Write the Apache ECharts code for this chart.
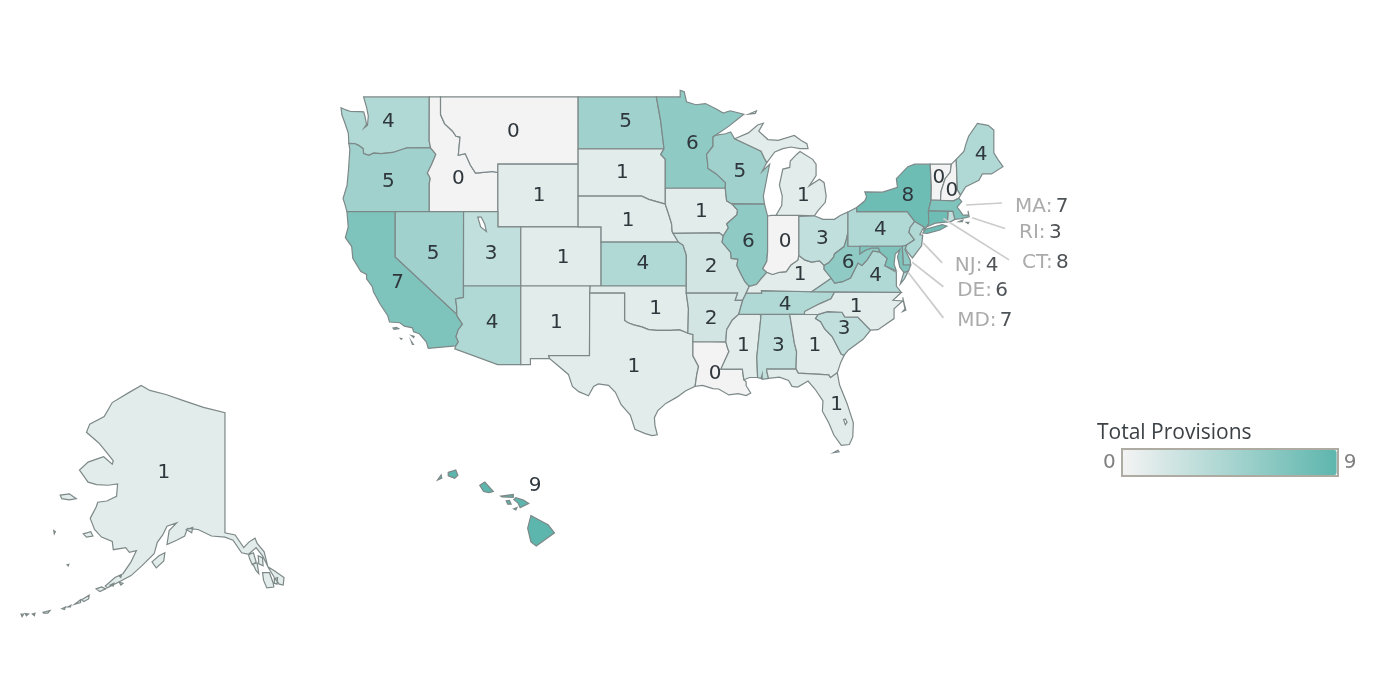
<!DOCTYPE html>
<html>
<head>
<meta charset="utf-8">
<title>Total Provisions</title>
<script src="https://cdn.jsdelivr.net/npm/echarts@6/dist/echarts.min.js"></script>
<style>
  html, body { margin: 0; background: #fff; }
  #main { width: 1400px; height: 700px; }
</style>
</head>
<body>
<div id="main"></div>
<script>
// values per state
const stateNames = ['WA','OR','CA','ID','NV','MT','WY','UT','AZ','CO','NM','ND','SD','NE','KS','OK','TX','MN','IA','MO','AR','LA','WI','IL','MS','AL','TN','KY','IN','MI','OH','GA','FL','SC','NC','VA','WV','PA','NY','VT','NH','ME','MA','RI','CT','NJ','DE','MD'];
const stateValues = [4,5,7,0,5,0,1,3,4,1,1,5,1,1,4,1,1,6,1,2,2,0,5,6,1,3,4,1,0,1,3,1,1,3,1,4,6,4,8,0,0,4,7,3,8,4,6,7];
const alaskaValue = 1;
const hawaiiValue = 9;

// states labelled outside the map, with their leader lines
const calloutStates = ['MA','RI','CT','NJ','DE','MD'];
const calloutFrom = [[-70.22,42.43],[-69.7,41.6],[-72.2,41.55],[-73.97,39.95],[-74.93,38.65],[-75.28,37.95]];
const calloutTo = [[-67.08,42.56],[-66.82,40.9],[-66.47,38.8],[-72.3,38.6],[-72.2,36.95],[-72.2,34.75]];
const calloutText = [[-65.95,42.43],[-65.6,40.75],[-65.34,38.72],[-71.2,38.5],[-71,36.8],[-71,34.65]];

// where each number sits, lon/lat
const labelPoints = {
  WA:[-120.6,47.63],OR:[-120.6,44],CA:[-119.8,37.3],ID:[-114.5,44.15],NV:[-116.7,39.3],MT:[-109.7,47],WY:[-107.45,43.1],UT:[-111.65,39.3],
  AZ:[-111.55,34.5],CO:[-105.35,39],NM:[-105.95,34.5],ND:[-99.9,47.6],SD:[-100.2,44.5],NE:[-99.7,41.5],KS:[-98.4,38.6],OK:[-97.3,35.5],
  TX:[-99.2,31.25],MN:[-94.1,46.3],IA:[-93.3,42.05],MO:[-92.45,38.4],AR:[-92.45,34.75],LA:[-92.1,30.7],WI:[-89.95,44.6],IL:[-89.2,40.1],
  MS:[-89.65,32.8],AL:[-86.6,32.8],TN:[-86,35.75],KY:[-84.7,37.85],IN:[-86,40.1],MI:[-84.4,43.1],OH:[-82.75,40.3],GA:[-83.4,32.8],
  FL:[-81.5,28.4],SC:[-80.85,34],NC:[-79.8,35.6],VA:[-78.1,37.75],WV:[-80.5,38.65],PA:[-77.7,40.85],NY:[-75.3,43.1],VT:[-72.6,44.25],
  NH:[-71.45,43.4],ME:[-68.9,45.65],MA:[-72,42.4],RI:[-71.5,41.7],CT:[-72.7,41.6],NJ:[-74.5,40.2],DE:[-75.5,39],MD:[-76.8,39.4]
};

// outlines, lon/lat. each state is a list of polygons, a polygon is a list of rings (outer, then holes)
const outlines = {
  WA: [[[[-124.73,48.38],[-124.3,48.25],[-123.9,48.16],[-123.1,48.15],[-122.75,48.14],[-122.65,47.9],[-122.5,47.4],[-122.7,47.2],[-122.42,47.35],[-122.35,47.9],[-122.5,48.4],[-122.76,49],[-117.03,49],[-117.04,46.42],[-116.92,45.995],[-118.98,46],[-119.3,45.93],[-120.2,45.72],[-121.2,45.65],[-121.9,45.68],[-122.3,45.55],[-122.76,45.65],[-122.8,45.95],[-123.2,46.15],[-123.55,46.26],[-124.05,46.27],[-124.07,46.65],[-124.1,46.9],[-124.4,47.5],[-124.65,47.95]]]],
  OR: [[[[-124.05,46.27],[-123.55,46.26],[-123.2,46.15],[-122.8,45.95],[-122.76,45.65],[-122.3,45.55],[-121.9,45.68],[-121.2,45.65],[-120.2,45.72],[-119.3,45.93],[-118.98,46],[-116.92,45.995],[-116.68,45.8],[-116.46,45.6],[-116.7,45.2],[-116.85,44.95],[-117.2,44.45],[-117.03,44.25],[-116.95,44.1],[-117.03,43.83],[-117.03,42],[-124.21,42],[-124.4,42.5],[-124.55,42.84],[-124.2,43.7],[-124.07,44.7],[-123.96,45.9]]]],
  CA: [[[[-124.21,42],[-120,42],[-120,39],[-114.63,35],[-114.6,34.87],[-114.14,34.3],[-114.5,33.9],[-114.7,33.4],[-114.5,33],[-114.72,32.72],[-117.12,32.53],[-117.28,33],[-117.9,33.6],[-118.4,33.75],[-118.5,34.03],[-119.2,34.15],[-119.6,34.4],[-120.5,34.45],[-120.65,34.9],[-121.3,35.7],[-121.9,36.6],[-122,36.95],[-122.5,37.5],[-122.5,37.8],[-123,38],[-123.7,38.9],[-123.8,39.7],[-124.35,40.3],[-124.1,41]]],
    [[[-120.2,34.02],[-119.9,34.07],[-119.7,33.97],[-120.1,33.92]]],[[[-118.6,33.48],[-118.35,33.42],[-118.4,33.33]]],[[[-118.6,33.05],[-118.42,32.82],[-118.5,32.82]]],[[[-119.55,33.28],[-119.42,33.25],[-119.48,33.2]]]],
  ID: [[[[-117.03,49],[-116.05,49],[-116.05,47.98],[-115.7,47.45],[-115,47],[-114.7,46.7],[-114.35,46.65],[-114.5,45.55],[-113.9,45.65],[-113.45,44.95],[-113,44.45],[-112.3,44.5],[-111.5,44.55],[-111.05,44.48],[-111.05,42],[-114.04,42],[-117.03,42],[-117.03,43.83],[-116.95,44.1],[-117.03,44.25],[-117.2,44.45],[-116.85,44.95],[-116.7,45.2],[-116.46,45.6],[-116.68,45.8],[-116.92,45.995],[-117.04,46.42]]]],
  NV: [[[[-120,42],[-114.04,42],[-114.05,37],[-114.05,36.2],[-114.74,36.1],[-114.65,35.6],[-114.63,35],[-120,39]]]],
  MT: [[[[-116.05,49],[-104.05,49],[-104.05,45],[-111.05,45],[-111.05,44.48],[-111.5,44.55],[-112.3,44.5],[-113,44.45],[-113.45,44.95],[-113.9,45.65],[-114.5,45.55],[-114.35,46.65],[-114.7,46.7],[-115,47],[-115.7,47.45],[-116.05,47.98]]]],
  WY: [[[[-111.05,45],[-104.05,45],[-104.05,41],[-111.05,41]]]],
  UT: [[[[-114.04,42],[-111.05,42],[-111.05,41],[-109.05,41],[-109.05,37],[-114.05,37]],[[-112.8,41.65],[-112.55,41],[-112.05,40.7],[-112.2,41.2],[-112.5,41.65]]]],
  AZ: [[[[-114.05,37],[-109.05,37],[-109.05,31.33],[-111.07,31.33],[-114.81,32.5],[-114.72,32.72],[-114.5,33],[-114.7,33.4],[-114.5,33.9],[-114.14,34.3],[-114.6,34.87],[-114.63,35],[-114.65,35.6],[-114.74,36.1],[-114.05,36.2]]]],
  CO: [[[[-109.05,41],[-102.05,41],[-102.05,37],[-109.05,37]]]],
  NM: [[[[-109.05,37],[-103,37],[-103.04,36.5],[-103.06,32],[-106.62,32],[-106.53,31.78],[-108.21,31.78],[-108.21,31.33],[-109.05,31.33]]]],
  ND: [[[[-104.05,49],[-97.23,49],[-96.85,47.6],[-96.56,45.94],[-104.05,45.94]]]],
  SD: [[[[-104.05,45.94],[-96.56,45.94],[-96.85,45.6],[-96.45,45.3],[-96.45,43.5],[-96.45,42.49],[-97.9,42.79],[-98.5,43],[-104.05,43]]]],
  NE: [[[[-104.05,43],[-98.5,43],[-97.9,42.79],[-96.45,42.49],[-96.1,41.7],[-95.9,41.2],[-95.85,40.7],[-95.31,40],[-102.05,40],[-102.05,41],[-104.05,41]]]],
  KS: [[[[-102.05,40],[-95.31,40],[-94.9,39.8],[-94.61,39.11],[-94.62,37],[-102.05,37]]]],
  OK: [[[[-103,37],[-94.62,37],[-94.62,36.5],[-94.43,35.4],[-94.48,33.64],[-95.2,33.88],[-96,33.85],[-96.6,33.85],[-97.2,33.85],[-97.9,33.9],[-98.5,34.1],[-99.2,34.25],[-99.7,34.4],[-100,34.56],[-100,36.5],[-103.04,36.5]]]],
  TX: [[[[-103.04,36.5],[-100,36.5],[-100,34.56],[-99.7,34.4],[-99.2,34.25],[-98.5,34.1],[-97.9,33.9],[-97.2,33.85],[-96.6,33.85],[-96,33.85],[-95.2,33.88],[-94.48,33.64],[-94.04,33.55],[-94.04,33.02],[-94.04,31.99],[-93.55,31.2],[-93.7,30.6],[-93.85,29.7],[-94.7,29.35],[-95.4,28.9],[-96.4,28.4],[-97.1,27.85],[-97.4,27.3],[-97.35,26.7],[-97.15,25.96],[-97.6,25.9],[-98.2,26.06],[-99.1,26.4],[-99.5,27.5],[-100.3,28.3],[-100.8,29.25],[-101.4,29.77],[-102.3,29.88],[-102.7,29.7],[-103.15,28.98],[-104,29.3],[-104.55,29.7],[-104.9,30.6],[-106,31.4],[-106.53,31.78],[-106.62,32],[-103.06,32]]]],
  MN: [[[[-97.23,49],[-95.15,49],[-95.15,49.38],[-94.8,49.3],[-94.6,48.72],[-93.8,48.55],[-92.95,48.62],[-92,48.3],[-91.4,48.07],[-90.8,48.2],[-89.6,48],[-90.9,47.3],[-92.1,46.75],[-92.29,46.66],[-92.29,46.1],[-92.85,45.6],[-92.75,45],[-92.75,44.75],[-92,44.4],[-91.2,43.85],[-91.22,43.5],[-96.45,43.5],[-96.45,45.3],[-96.85,45.6],[-96.56,45.94],[-96.85,47.6]]]],
  IA: [[[[-96.45,43.5],[-91.22,43.5],[-91.1,42.7],[-90.64,42.5],[-90.15,42.1],[-90.2,41.8],[-91.1,41.2],[-90.95,40.95],[-91.4,40.4],[-91.73,40.61],[-95.77,40.58],[-95.85,40.7],[-95.9,41.2],[-96.1,41.7],[-96.45,42.49]]]],
  MO: [[[[-95.77,40.58],[-91.73,40.61],[-91.4,40.4],[-91.5,40],[-90.75,39.3],[-90.7,38.9],[-90.12,38.85],[-90.2,38.4],[-89.9,37.9],[-89.5,37.3],[-89.13,36.98],[-89.4,36.5],[-89.7,36],[-90.37,36],[-90.15,36.5],[-94.62,36.5],[-94.62,37],[-94.61,39.11],[-94.9,39.8],[-95.31,40]]]],
  AR: [[[[-94.62,36.5],[-90.15,36.5],[-90.37,36],[-89.7,36],[-90.05,35],[-90.6,34.6],[-91.1,33.9],[-91.17,33],[-94.04,33.02],[-94.04,33.55],[-94.48,33.64],[-94.43,35.4]]]],
  LA: [[[[-94.04,33.02],[-91.17,33],[-91,32.5],[-90.9,32.3],[-91.6,31],[-89.73,31],[-89.6,30.2],[-89.4,30.05],[-89.4,29.75],[-89,29.2],[-89.4,29],[-90.1,29.15],[-90.9,29.05],[-91.8,29.5],[-92.3,29.53],[-93.2,29.77],[-93.85,29.7],[-93.7,30.6],[-93.55,31.2],[-94.04,31.99]]]],
  WI: [[[[-92.29,46.66],[-92.1,46.75],[-91.2,46.85],[-90.75,46.95],[-90.4,46.55],[-89.1,46.13],[-88.1,45.8],[-87.8,45.35],[-87.6,45.1],[-88,44.55],[-87.35,45],[-87.55,44.3],[-87.9,43],[-87.8,42.49],[-90.64,42.5],[-91.1,42.7],[-91.22,43.5],[-91.2,43.85],[-92,44.4],[-92.75,44.75],[-92.75,45],[-92.85,45.6],[-92.29,46.1]]]],
  IL: [[[[-90.64,42.5],[-87.8,42.49],[-87.53,41.72],[-87.53,39.35],[-87.6,38.7],[-87.95,38.2],[-87.6,37.95],[-88.1,37.5],[-88.5,37.1],[-89.13,36.98],[-89.5,37.3],[-89.9,37.9],[-90.2,38.4],[-90.12,38.85],[-90.7,38.9],[-90.75,39.3],[-91.5,40],[-91.4,40.4],[-90.95,40.95],[-91.1,41.2],[-90.2,41.8],[-90.15,42.1]]]],
  MS: [[[[-90.05,35],[-88.2,35],[-88.1,34.9],[-88.47,31.9],[-88.4,30.37],[-89.1,30.37],[-89.6,30.2],[-89.73,31],[-91.6,31],[-90.9,32.3],[-91,32.5],[-91.17,33],[-91.1,33.9],[-90.6,34.6]]]],
  AL: [[[[-88.2,35],[-85.6,35],[-85.18,32.86],[-85,32.3],[-85.05,31],[-87.6,31],[-87.6,30.85],[-87.45,30.3],[-88,30.23],[-88,30.6],[-88.1,30.3],[-88.4,30.37],[-88.47,31.9],[-88.1,34.9]]]],
  TN: [[[[-90.05,35],[-89.7,36],[-89.4,36.5],[-88.05,36.5],[-88.07,36.68],[-83.68,36.6],[-81.68,36.59],[-82,36.1],[-83,35.75],[-84.3,35.2],[-84.32,34.99],[-85.6,35],[-88.2,35]]]],
  KY: [[[[-89.13,36.98],[-88.5,37.1],[-88.1,37.5],[-87.6,37.95],[-87.1,37.8],[-86.5,37.95],[-85.9,38],[-85.5,38.45],[-84.9,38.78],[-84.8,39.1],[-84.3,38.8],[-83.7,38.65],[-83,38.73],[-82.6,38.42],[-82.6,38.15],[-81.97,37.54],[-83.68,36.6],[-88.07,36.68],[-88.05,36.5],[-89.4,36.5]]]],
  IN: [[[[-87.53,41.72],[-87.2,41.76],[-86.8,41.76],[-84.8,41.76],[-84.8,39.1],[-84.9,38.78],[-85.5,38.45],[-85.9,38],[-86.5,37.95],[-87.1,37.8],[-87.6,37.95],[-87.95,38.2],[-87.6,38.7],[-87.53,39.35]]]],
  MI: [[[[-86.8,41.76],[-84.8,41.76],[-83.45,41.73],[-83.15,42.05],[-82.5,42.6],[-82.42,43],[-82.6,43.85],[-83,44.07],[-83.9,43.65],[-83.3,44.3],[-83.3,45],[-83.6,45.3],[-84.7,45.78],[-85,45.6],[-85.55,45.2],[-85.6,44.8],[-86.2,44.7],[-86.5,43.7],[-86.25,43],[-86.3,42.4]]],
    [[[-90.4,46.55],[-89.2,46.9],[-88.4,47.37],[-87.9,47.47],[-88.3,47],[-87.5,46.5],[-86.6,46.45],[-85.2,46.75],[-84.6,46.45],[-84.1,46.25],[-84,45.95],[-84.7,45.95],[-85.5,46.05],[-86.2,45.95],[-86.9,45.75],[-87.6,45.1],[-87.8,45.35],[-88.1,45.8],[-89.1,46.13]]],
    [[[-89.2,48],[-88.5,48.2],[-88.6,48.05]]]],
  OH: [[[[-84.8,41.7],[-83.45,41.73],[-82.7,41.5],[-81.7,41.5],[-81.2,41.75],[-80.52,41.98],[-80.52,40.64],[-80.65,40.2],[-80.85,39.7],[-81.7,39.2],[-81.75,39],[-82.2,38.6],[-82.6,38.42],[-83,38.73],[-83.7,38.65],[-84.3,38.8],[-84.8,39.1]]]],
  GA: [[[[-85.6,35],[-83.11,35],[-83.35,34.7],[-82.9,34.48],[-82.55,33.95],[-81.9,33.4],[-81.4,32.6],[-81.1,32.1],[-80.85,32.03],[-81.15,31.5],[-81.45,30.72],[-82.05,30.36],[-82.2,30.57],[-84.86,30.7],[-85.05,31],[-85,32.3],[-85.18,32.86]]]],
  FL: [[[[-87.6,31],[-85.05,31],[-84.86,30.7],[-82.2,30.57],[-82.05,30.36],[-81.45,30.72],[-81.25,29.8],[-80.6,28.4],[-80.05,26.9],[-80.1,25.8],[-80.4,25.2],[-81.1,25.13],[-81.75,25.95],[-82.2,26.9],[-82.75,27.8],[-82.7,28.6],[-83.4,29.5],[-84,30.1],[-84.9,29.65],[-85.4,29.7],[-85.7,30.15],[-86.5,30.4],[-87.45,30.3],[-87.6,30.85]],[[-80.9,27.15],[-80.75,26.75],[-80.6,26.95],[-80.75,27.2]]],
    [[[-81.8,24.55],[-81.4,24.75],[-81.3,24.62]]]],
  SC: [[[[-83.11,35],[-82.3,35.2],[-81.04,35.15],[-80.8,34.82],[-79.67,34.8],[-78.55,33.86],[-79.2,33.2],[-80.5,32.4],[-80.85,32.03],[-81.1,32.1],[-81.4,32.6],[-81.9,33.4],[-82.55,33.95],[-82.9,34.48],[-83.35,34.7]]]],
  NC: [[[[-84.32,34.99],[-84.3,35.2],[-83,35.75],[-82,36.1],[-81.68,36.59],[-75.87,36.55],[-76.6,36],[-75.75,35.95],[-76.5,35.4],[-76.5,34.7],[-77.9,33.9],[-78.55,33.86],[-79.67,34.8],[-80.8,34.82],[-81.04,35.15],[-82.3,35.2],[-83.11,35]]],
    [[[-75.75,36.2],[-75.47,35.3],[-75.75,35.2],[-75.55,35.4]]]],
  VA: [[[[-83.68,36.6],[-81.97,37.54],[-81.68,37.2],[-81,37.3],[-80.3,37.55],[-79.65,38.58],[-79.3,38.42],[-78.85,38.8],[-78.35,39.4],[-77.72,39.32],[-77.1,38.9],[-77.3,38.4],[-76.3,37.95],[-76.3,37],[-75.87,36.55],[-81.68,36.59]]],
    [[[-75.95,37.15],[-75.65,37.95],[-75.25,38.03],[-75.6,37.5]]]],
  WV: [[[[-80.52,40.64],[-80.52,39.72],[-79.48,39.72],[-79.48,39.2],[-79,39.45],[-78.45,39.6],[-77.85,39.6],[-77.72,39.32],[-78.35,39.4],[-78.85,38.8],[-79.3,38.42],[-79.65,38.58],[-80.3,37.55],[-81,37.3],[-81.68,37.2],[-81.97,37.54],[-82.6,38.15],[-82.6,38.42],[-82.2,38.6],[-81.75,39],[-81.7,39.2],[-80.85,39.7],[-80.65,40.2]]]],
  PA: [[[[-80.52,41.98],[-79.76,42.27],[-79.76,42],[-75.35,42],[-74.7,41.36],[-75.1,40.97],[-75.2,40.65],[-74.72,40.15],[-75.41,39.8],[-75.79,39.72],[-80.52,39.72]]]],
  NY: [[[[-79.76,42.27],[-79.05,42.7],[-78.9,42.95],[-79.05,43.27],[-77.5,43.25],[-76.2,43.55],[-76.3,44.1],[-75.3,44.85],[-74.7,45],[-73.35,45],[-73.25,43.6],[-73.27,42.75],[-73.5,42.05],[-73.48,41.2],[-73.66,41],[-73.9,40.8],[-73.9,41],[-74.7,41.36],[-75.35,42],[-79.76,42]]],
    [[[-74,40.6],[-73.75,40.85],[-72.3,41.15],[-71.9,41.05],[-72.5,40.8],[-73.6,40.58]]]],
  VT: [[[[-73.35,45],[-71.5,45.01],[-71.6,44.5],[-72.05,44.1],[-72.4,43.3],[-72.45,42.73],[-73.27,42.75],[-73.25,43.6]]]],
  NH: [[[[-71.5,45.01],[-71.08,45.3],[-70.98,43.4],[-70.7,43.07],[-70.85,42.87],[-71.3,42.7],[-72.45,42.73],[-72.4,43.3],[-72.05,44.1],[-71.6,44.5]]]],
  ME: [[[[-71.08,45.3],[-70.4,45.8],[-70.25,46.2],[-70,46.7],[-69.23,47.46],[-69,47.43],[-68.3,47.35],[-67.8,47.07],[-67.8,45.7],[-67.45,45.3],[-67,44.85],[-68,44.4],[-68.8,44.4],[-69.1,44],[-69.8,43.75],[-70.25,43.6],[-70.7,43.07],[-70.98,43.4]]]],
  MA: [[[[-73.27,42.75],[-71.3,42.7],[-70.85,42.87],[-70.6,42.65],[-71,42.3],[-70.65,41.95],[-70.5,41.78],[-70,41.78],[-70.05,42.05],[-69.95,41.67],[-70.65,41.55],[-71.2,41.5],[-71.38,42.02],[-71.8,42.02],[-73.5,42.05]]],
    [[[-70.82,41.35],[-70.5,41.45],[-70.55,41.35]]],[[[-70.2,41.3],[-69.98,41.3],[-70.05,41.22]]]],
  RI: [[[[-71.8,42.02],[-71.38,42.02],[-71.2,41.5],[-71.5,41.37],[-71.85,41.33]]]],
  CT: [[[[-73.5,42.05],[-71.8,42.02],[-71.85,41.33],[-72.9,41.25],[-73.66,41],[-73.48,41.2]]]],
  NJ: [[[[-74.7,41.36],[-73.9,41],[-74.25,40.5],[-74,40.45],[-74.1,39.75],[-74.9,38.93],[-75.3,39.3],[-75.55,39.6],[-75.41,39.8],[-74.72,40.15],[-75.2,40.65],[-75.1,40.97]]]],
  DE: [[[[-75.79,39.72],[-75.41,39.8],[-75.55,39.5],[-75.1,38.8],[-75.05,38.45],[-75.7,38.46]]]],
  MD: [[[[-79.48,39.72],[-75.79,39.72],[-75.7,38.46],[-75.05,38.45],[-75.25,38.03],[-75.65,37.95],[-76,38.3],[-76.2,39],[-76,39.5],[-76.4,39.2],[-76.5,38.5],[-76.3,38.05],[-77.3,38.4],[-77.1,38.9],[-77.72,39.32],[-77.85,39.6],[-78.45,39.6],[-79,39.45],[-79.48,39.2]]]]
};

const alaskaOutline = [
  [[[-141,69.65],[-141,60.3],[-139.1,60.1],[-137.5,58.9],[-136.5,59.45],[-135.4,59.8],[-135,59.3],[-133.7,58.5],[-133,57],[-131.8,56.6],[-130,55.9],[-130.15,55.1],[-130.9,55.2],[-131.8,55.9],[-132.9,56.9],[-134,58.1],[-135.2,58.9],[-136.6,58.25],[-137.9,58.4],[-139.5,59.6],[-141,59.9],[-143.5,60],[-146,60.6],[-148,60.7],[-148.5,60],[-150,59.6],[-151.8,59.2],[-151.4,60.5],[-150,61.2],[-151.8,60.9],[-152.6,60.1],[-153.6,59.4],[-154.2,58.3],[-156.5,57.1],[-158.5,56.1],[-160.5,55.5],[-162.9,54.8],[-163.3,55],[-161.5,55.9],[-160,56.3],[-158.5,57.5],[-157.5,58.6],[-158.8,58.45],[-159.5,58.9],[-161.8,58.7],[-162,59.5],[-164,59.9],[-165.3,60.6],[-166.1,61.6],[-165,62.6],[-164.7,63],[-163,63.1],[-161.2,63.5],[-161,64.5],[-162.8,64.4],[-164.9,64.45],[-166.5,64.65],[-168.1,65.6],[-166.5,66.2],[-164.4,66.5],[-163.6,66.6],[-162,66.05],[-161.8,66.3],[-163.2,67],[-164.5,67.6],[-166.8,68.35],[-166.2,68.9],[-163.5,69.4],[-162,70.3],[-159,70.9],[-156.6,71.35],[-155,71.05],[-152,70.8],[-149,70.45],[-145,70]]],
  [[[-154.6,57.5],[-153.3,58.1],[-152.2,58.4],[-152.4,57.6],[-153.8,56.9]]],
  [[[-171.7,63.6],[-170,63.7],[-168.7,63.3],[-170,63.2],[-171.4,63.3]]],
  [[[-167.4,60.2],[-166,60.4],[-165.6,60],[-166.8,59.9]]],
  [[[-172.9,60.5],[-172.6,60.4],[-172.8,60.2]]],
  [[[-136.6,58.2],[-135.7,58.4],[-135.2,57.5],[-135.9,57.2],[-136.4,57.8]]],
  [[[-135.8,57.3],[-135,57.4],[-134.7,56.3],[-135.2,56.6]]],
  [[[-134.8,58.1],[-134,57.9],[-133.9,57.1],[-134.7,57.3]]],
  [[[-134,56.4],[-132.7,56.4],[-132,55.3],[-131.9,54.9],[-133.2,54.8],[-133.8,55.6]]],
  [[[-131.8,55.8],[-131.2,55.9],[-131.3,55.2],[-131.8,55.3]]],
  [[[-148.2,60.6],[-147,60.8],[-147.2,60.3]]],
  [[[-165,54.7],[-164,54.9],[-163.2,54.7],[-164.3,54.4]]],
  [[[-162.4,55.1],[-161.7,55.3],[-161.8,55]]],
  [[[-160.7,55.4],[-160,55.3],[-160.4,55.1]]],
  [[[-167.7,53.5],[-166.3,54],[-166.4,53.6],[-167.3,53.3]]],
  [[[-169,53],[-167.9,53.5],[-167.9,53.2]]],
  [[[-170.3,52.7],[-169.7,52.9],[-169.8,52.7]]],
  [[[-174.9,52.1],[-173.6,52.3],[-174,52],[-174.8,52]]],
  [[[-176.9,51.9],[-176.4,52],[-176.5,51.7]]],
  [[[-178.2,51.95],[-177.6,51.9],[-178,51.7]]],
  [[[-171.4,52.5],[-170.7,52.7],[-170.9,52.4]]],
  [[[-179,51.9],[-178.5,51.9],[-178.8,51.6]]],
  [[[-170.4,57.2],[-170.1,57.25],[-170.2,57.1]]],
  [[[-160.6,56],[-160.3,56.1],[-160.4,55.9]]]
];

const hawaiiOutline = [
  [[[-159.75,22.13],[-159.4,22.23],[-159.3,22],[-159.45,21.87],[-159.75,21.98]]],
  [[[-160.25,21.8],[-160.08,22.02],[-160.05,21.88]]],
  [[[-158.28,21.57],[-158.05,21.71],[-157.65,21.3],[-157.85,21.25],[-158.1,21.3]]],
  [[[-157.3,21.1],[-156.72,21.17],[-156.72,21.05],[-157.25,21.07]]],
  [[[-157.05,20.9],[-156.9,20.92],[-156.82,20.75],[-156.98,20.75]]],
  [[[-156.7,20.95],[-156.6,21.03],[-156.25,20.93],[-156,20.78],[-156.4,20.6],[-156.5,20.8]]],
  [[[-156.7,20.55],[-156.55,20.6],[-156.6,20.5]]],
  [[[-155.9,20.25],[-155.6,20.1],[-155.1,19.85],[-154.8,19.5],[-155.65,18.92],[-155.9,19.1],[-156.05,19.7]]]
];

function feature(name, polygons, cp) {
  return {
    type: 'Feature',
    properties: { name: name, cp: cp },
    geometry: { type: 'MultiPolygon', coordinates: polygons }
  };
}

echarts.registerMap('usa48', {
  type: 'FeatureCollection',
  features: stateNames.map(function (s) { return feature(s, outlines[s], labelPoints[s]); })
});
echarts.registerMap('alaska', { type: 'FeatureCollection', features: [feature('AK', alaskaOutline, [-152.4, 65.5])] });
echarts.registerMap('hawaii', { type: 'FeatureCollection', features: [feature('HI', hawaiiOutline, [-155.7, 21.6])] });

// web mercator, y down
const mercator = {
  project: function (p) {
    return [p[0], -Math.log(Math.tan(Math.PI / 4 + p[1] * Math.PI / 360)) * 180 / Math.PI];
  },
  unproject: function (p) {
    return [p[0], (2 * Math.atan(Math.exp(-p[1] * Math.PI / 180)) - Math.PI / 2) * 180 / Math.PI];
  }
};

const textColor = '#2f373d';
const mutedColor = '#969696';
const numFont = '"DejaVu Sans", sans-serif';
const usCenter = [672, 271.5];
const usSize = 662;

function mapSeries(mapName, data, center, size) {
  return {
    type: 'map',
    map: mapName,
    projection: mercator,
    roam: false,
    silent: true,
    selectedMode: false,
    layoutCenter: center,
    layoutSize: size,
    data: data,
    itemStyle: { borderColor: '#7d8888', borderWidth: 1.2 },
    label: { show: true, formatter: '{c}', color: textColor, fontSize: 20, offset: [0, 1], fontFamily: numFont },
    emphasis: { disabled: true }
  };
}

const usData = stateNames.map(function (s, i) {
  const d = { name: s, value: stateValues[i] };
  if (calloutStates.indexOf(s) >= 0) d.label = { show: false };
  return d;
});

const chart = echarts.init(document.getElementById('main'));
chart.setOption({
  backgroundColor: '#fff',
  animation: false,
  title: {
    text: 'Total Provisions',
    left: 1097,
    top: 423,
    padding: 0,
    textStyle: { color: '#3c4145', fontSize: 21, fontWeight: 'normal', fontFamily: '"Open Sans", sans-serif' }
  },
  // same layout as the lower-48 map, only here to place the call-outs
  geo: {
    map: 'usa48',
    projection: mercator,
    silent: true,
    roam: false,
    layoutCenter: usCenter,
    layoutSize: usSize,
    itemStyle: { areaColor: 'transparent', borderWidth: 0 },
    label: { show: false },
    emphasis: { disabled: true }
  },
  visualMap: {
    type: 'continuous',
    min: 0,
    max: 9,
    seriesIndex: [0, 1, 2],
    orient: 'horizontal',
    calculable: false,
    left: 1103,
    top: 450,
    padding: 0,
    itemWidth: 25,
    itemHeight: 214,
    text: ['9', '0'],
    textGap: 7,
    textStyle: { color: '#7f7f7f', fontSize: 20, fontFamily: numFont },
    inRange: { color: ['#f3f3f3', '#5db6ad'] }
  },
  graphic: [{
    type: 'rect',
    silent: true,
    z: 100,
    shape: { x: 1122, y: 449, width: 216, height: 27 },
    style: { fill: 'none', stroke: '#aeaba3', lineWidth: 2 }
  }],
  series: [
    mapSeries('usa48', usData, usCenter, usSize),
    mapSeries('alaska', [{ name: 'AK', value: alaskaValue }], [152.5, 501], 263),
    mapSeries('hawaii', [{ name: 'HI', value: hawaiiValue }], [496, 508], 117),
    {
      type: 'lines',
      coordinateSystem: 'geo',
      geoIndex: 0,
      silent: true,
      z: 5,
      lineStyle: { color: '#cbcbcb', width: 1.7, opacity: 1 },
      data: calloutStates.map(function (s, i) {
        return { coords: [calloutFrom[i], calloutTo[i]] };
      })
    },
    {
      type: 'scatter',
      coordinateSystem: 'geo',
      geoIndex: 0,
      silent: true,
      symbolSize: 0,
      z: 6,
      label: {
        show: true,
        position: 'right',
        distance: 0,
        offset: [0, 2],
        formatter: function (p) {
          return '{a|' + p.data.state + ':} {b|' + p.data.total + '}';
        },
        rich: {
          a: { color: mutedColor, fontSize: 20, fontFamily: numFont },
          b: { color: '#22282d', fontSize: 20, fontFamily: numFont }
        }
      },
      data: calloutStates.map(function (s, i) {
        return { value: calloutText[i], state: s, total: stateValues[stateNames.indexOf(s)] };
      })
    }
  ]
});
</script>
</body>
</html>
